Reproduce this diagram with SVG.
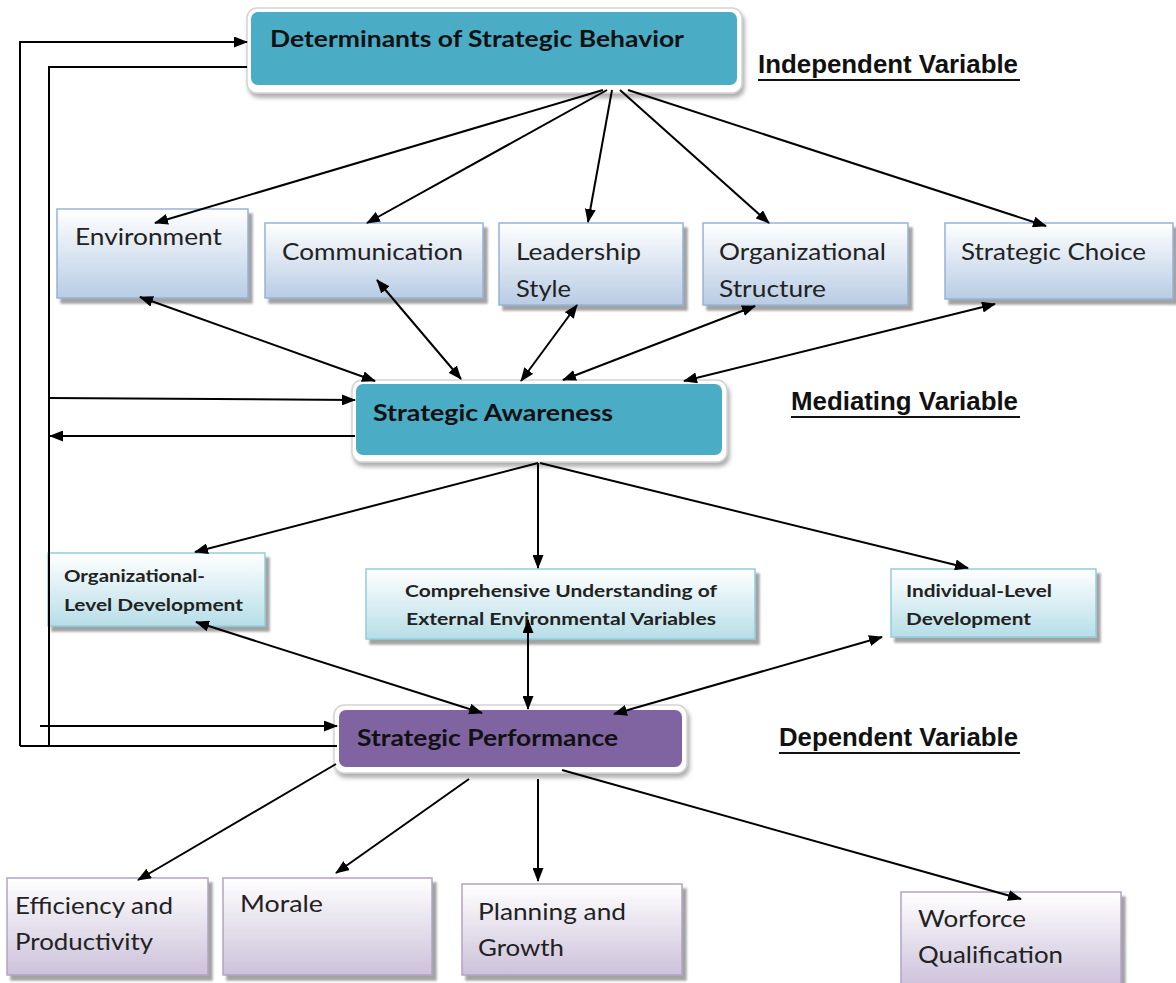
<svg xmlns="http://www.w3.org/2000/svg" width="1176" height="983" viewBox="0 0 1176 983">
<defs>
<style>
.frame{fill:#fff;stroke:#d4d4d4;stroke-width:1.5}
.teal{fill:#4BACC6}
.purp{fill:#8064A2}
.bl{fill:url(#gBlue);stroke:#95B3D7;stroke-width:1.5}
.cy{fill:url(#gCyan);stroke:#93CDDD;stroke-width:1.5}
.pu{fill:url(#gPurp);stroke:#B3A2C7;stroke-width:1.5}
.big{font-family:Lato,"Open Sans",sans-serif;font-weight:bold;font-size:22px;fill:#111}
.t1{font-family:Lato,"Open Sans",sans-serif;font-size:24px;fill:#222}
.t2{font-family:Lato,"Open Sans",sans-serif;font-weight:bold;font-size:17px;fill:#222}
.lab{font-family:"Liberation Sans",Arial,sans-serif;font-weight:bold;font-size:25px;fill:#111}
.ul{stroke:#111;stroke-width:2}
.c{fill:none;stroke:#000;stroke-width:2}
.a{marker-end:url(#ah)}
.b{marker-start:url(#ah);marker-end:url(#ah)}
</style>
<marker id="ah" markerUnits="userSpaceOnUse" markerWidth="15" markerHeight="11" refX="13" refY="5.5" orient="auto-start-reverse">
<path d="M0,0 L14,5.5 L0,11 z" fill="#000"/>
</marker>
<linearGradient id="gBlue" x1="0" y1="0" x2="0" y2="1"><stop offset="0" stop-color="#FFFFFF"/><stop offset="1" stop-color="#B8CCE4"/></linearGradient>
<linearGradient id="gCyan" x1="0" y1="0" x2="0" y2="1"><stop offset="0" stop-color="#FFFFFF"/><stop offset="1" stop-color="#B7DEE8"/></linearGradient>
<linearGradient id="gPurp" x1="0" y1="0" x2="0" y2="1"><stop offset="0" stop-color="#FFFFFF"/><stop offset="1" stop-color="#CCC1DA"/></linearGradient>
<filter id="sh" x="-10%" y="-20%" width="130%" height="150%"><feDropShadow dx="2" dy="4" stdDeviation="2" flood-color="#777" flood-opacity="0.6"/></filter>
<filter id="sh2" x="-10%" y="-10%" width="130%" height="130%"><feDropShadow dx="4" dy="5" stdDeviation="1" flood-color="#8c8c8c" flood-opacity="0.8"/></filter>
</defs>

<g id="determinants">
<rect class="frame" x="247" y="8" width="495" height="85" rx="10" filter="url(#sh)"/>
<rect class="teal" x="251" y="12" width="486" height="73" rx="7"/>
<text class="big" x="270" y="47" textLength="414" lengthAdjust="spacingAndGlyphs">Determinants of Strategic Behavior</text>
</g>

<g id="awareness">
<rect class="frame" x="352" y="380" width="375" height="82" rx="10" filter="url(#sh)"/>
<rect class="teal" x="356" y="384" width="366" height="71" rx="7"/>
<text class="big" x="373" y="421" textLength="240" lengthAdjust="spacingAndGlyphs">Strategic Awareness</text>
</g>

<g id="performance">
<rect class="frame" x="334" y="705" width="353" height="68" rx="10" filter="url(#sh)"/>
<rect class="purp" x="339" y="710" width="343" height="57" rx="7"/>
<text class="big" x="357" y="746" textLength="261" lengthAdjust="spacingAndGlyphs">Strategic Performance</text>
</g>

<g id="label-independent">
<text class="lab" x="758" y="73" textLength="260" lengthAdjust="spacingAndGlyphs">Independent Variable</text>
<line class="ul" x1="758" y1="80" x2="1020" y2="80"/>
</g>
<g id="label-mediating">
<text class="lab" x="791" y="410" textLength="227" lengthAdjust="spacingAndGlyphs">Mediating Variable</text>
<line class="ul" x1="791" y1="417" x2="1020" y2="417"/>
</g>
<g id="label-dependent">
<text class="lab" x="779" y="746" textLength="239" lengthAdjust="spacingAndGlyphs">Dependent Variable</text>
<line class="ul" x1="779" y1="753" x2="1020" y2="753"/>
</g>

<g id="environment">
<rect class="bl" x="57" y="209" width="191" height="89" filter="url(#sh2)"/>
<text class="t1" x="75" y="245" textLength="147" lengthAdjust="spacingAndGlyphs">Environment</text>
</g>
<g id="communication">
<rect class="bl" x="265" y="223" width="218" height="75" filter="url(#sh2)"/>
<text class="t1" x="282" y="260" textLength="181" lengthAdjust="spacingAndGlyphs">Communication</text>
</g>
<g id="leadership">
<rect class="bl" x="499" y="223" width="184" height="82" filter="url(#sh2)"/>
<text class="t1" x="516" y="260" textLength="125" lengthAdjust="spacingAndGlyphs">Leadership</text>
<text class="t1" x="516" y="297" textLength="55" lengthAdjust="spacingAndGlyphs">Style</text>
</g>
<g id="structure">
<rect class="bl" x="703" y="223" width="205" height="82" filter="url(#sh2)"/>
<text class="t1" x="719" y="260" textLength="167" lengthAdjust="spacingAndGlyphs">Organizational</text>
<text class="t1" x="719" y="297" textLength="107" lengthAdjust="spacingAndGlyphs">Structure</text>
</g>
<g id="choice">
<rect class="bl" x="945" y="223" width="228" height="76" filter="url(#sh2)"/>
<text class="t1" x="961" y="260" textLength="185" lengthAdjust="spacingAndGlyphs">Strategic Choice</text>
</g>

<g id="org-level">
<rect class="cy" x="48" y="553" width="217" height="73" filter="url(#sh2)"/>
<text class="t2" x="64" y="582" textLength="141" lengthAdjust="spacingAndGlyphs">Organizational-</text>
<text class="t2" x="64" y="611" textLength="179" lengthAdjust="spacingAndGlyphs">Level Development</text>
</g>
<g id="comprehensive">
<rect class="cy" x="366" y="569" width="389" height="70" filter="url(#sh2)"/>
<text class="t2" x="405" y="597" textLength="312" lengthAdjust="spacingAndGlyphs">Comprehensive Understanding of</text>
<text class="t2" x="406" y="625" textLength="310" lengthAdjust="spacingAndGlyphs">External Environmental Variables</text>
</g>
<g id="individual">
<rect class="cy" x="891" y="569" width="205" height="68" filter="url(#sh2)"/>
<text class="t2" x="906" y="597" textLength="146" lengthAdjust="spacingAndGlyphs">Individual-Level</text>
<text class="t2" x="906" y="625" textLength="125" lengthAdjust="spacingAndGlyphs">Development</text>
</g>

<g id="efficiency">
<rect class="pu" x="7" y="878" width="201" height="97" filter="url(#sh2)"/>
<text class="t1" x="15" y="914" textLength="158" lengthAdjust="spacingAndGlyphs">Efficiency and</text>
<text class="t1" x="15" y="950" textLength="138" lengthAdjust="spacingAndGlyphs">Productivity</text>
</g>
<g id="morale">
<rect class="pu" x="223" y="878" width="209" height="97" filter="url(#sh2)"/>
<text class="t1" x="240" y="912" textLength="83" lengthAdjust="spacingAndGlyphs">Morale</text>
</g>
<g id="planning">
<rect class="pu" x="462" y="884" width="220" height="91" filter="url(#sh2)"/>
<text class="t1" x="478" y="920" textLength="148" lengthAdjust="spacingAndGlyphs">Planning and</text>
<text class="t1" x="478" y="956" textLength="86" lengthAdjust="spacingAndGlyphs">Growth</text>
</g>
<g id="workforce">
<rect class="pu" x="901" y="892" width="220" height="95" filter="url(#sh2)"/>
<text class="t1" x="918" y="927" textLength="108" lengthAdjust="spacingAndGlyphs">Worforce</text>
<text class="t1" x="918" y="963" textLength="145" lengthAdjust="spacingAndGlyphs">Qualification</text>
</g>

<g id="connectors">
<polyline class="c a" points="20,746 20,42 247,42"/>
<line class="c" x1="20" y1="746" x2="337" y2="746"/>
<polyline class="c" points="247,67 49,67 49,746"/>
<line class="c a" x1="49" y1="398" x2="355" y2="400"/>
<line class="c a" x1="355" y1="436" x2="50" y2="436"/>
<line class="c a" x1="40" y1="726" x2="337" y2="726"/>
<line class="c a" x1="603" y1="90" x2="155" y2="223"/>
<line class="c a" x1="607" y1="90" x2="367" y2="223"/>
<line class="c a" x1="612" y1="90" x2="588" y2="222"/>
<line class="c a" x1="620" y1="90" x2="769" y2="223"/>
<line class="c a" x1="628" y1="90" x2="1046" y2="226"/>
<line class="c b" x1="140" y1="297" x2="375" y2="381"/>
<line class="c b" x1="377" y1="280" x2="461" y2="379"/>
<line class="c b" x1="577" y1="305" x2="521" y2="381"/>
<line class="c b" x1="755" y1="306" x2="563" y2="380"/>
<line class="c b" x1="995" y1="304" x2="684" y2="381"/>
<line class="c a" x1="538" y1="463" x2="195" y2="552"/>
<line class="c a" x1="538" y1="463" x2="538" y2="568"/>
<line class="c a" x1="540" y1="463" x2="968" y2="568"/>
<line class="c b" x1="196" y1="622" x2="482" y2="713"/>
<line class="c b" x1="528" y1="620" x2="528" y2="709"/>
<line class="c b" x1="882" y1="637" x2="614" y2="714"/>
<line class="c a" x1="336" y1="764" x2="138" y2="880"/>
<line class="c a" x1="469" y1="779" x2="336" y2="873"/>
<line class="c a" x1="538" y1="779" x2="538" y2="881"/>
<line class="c a" x1="562" y1="770" x2="1021" y2="899"/>
</g>
</svg>
